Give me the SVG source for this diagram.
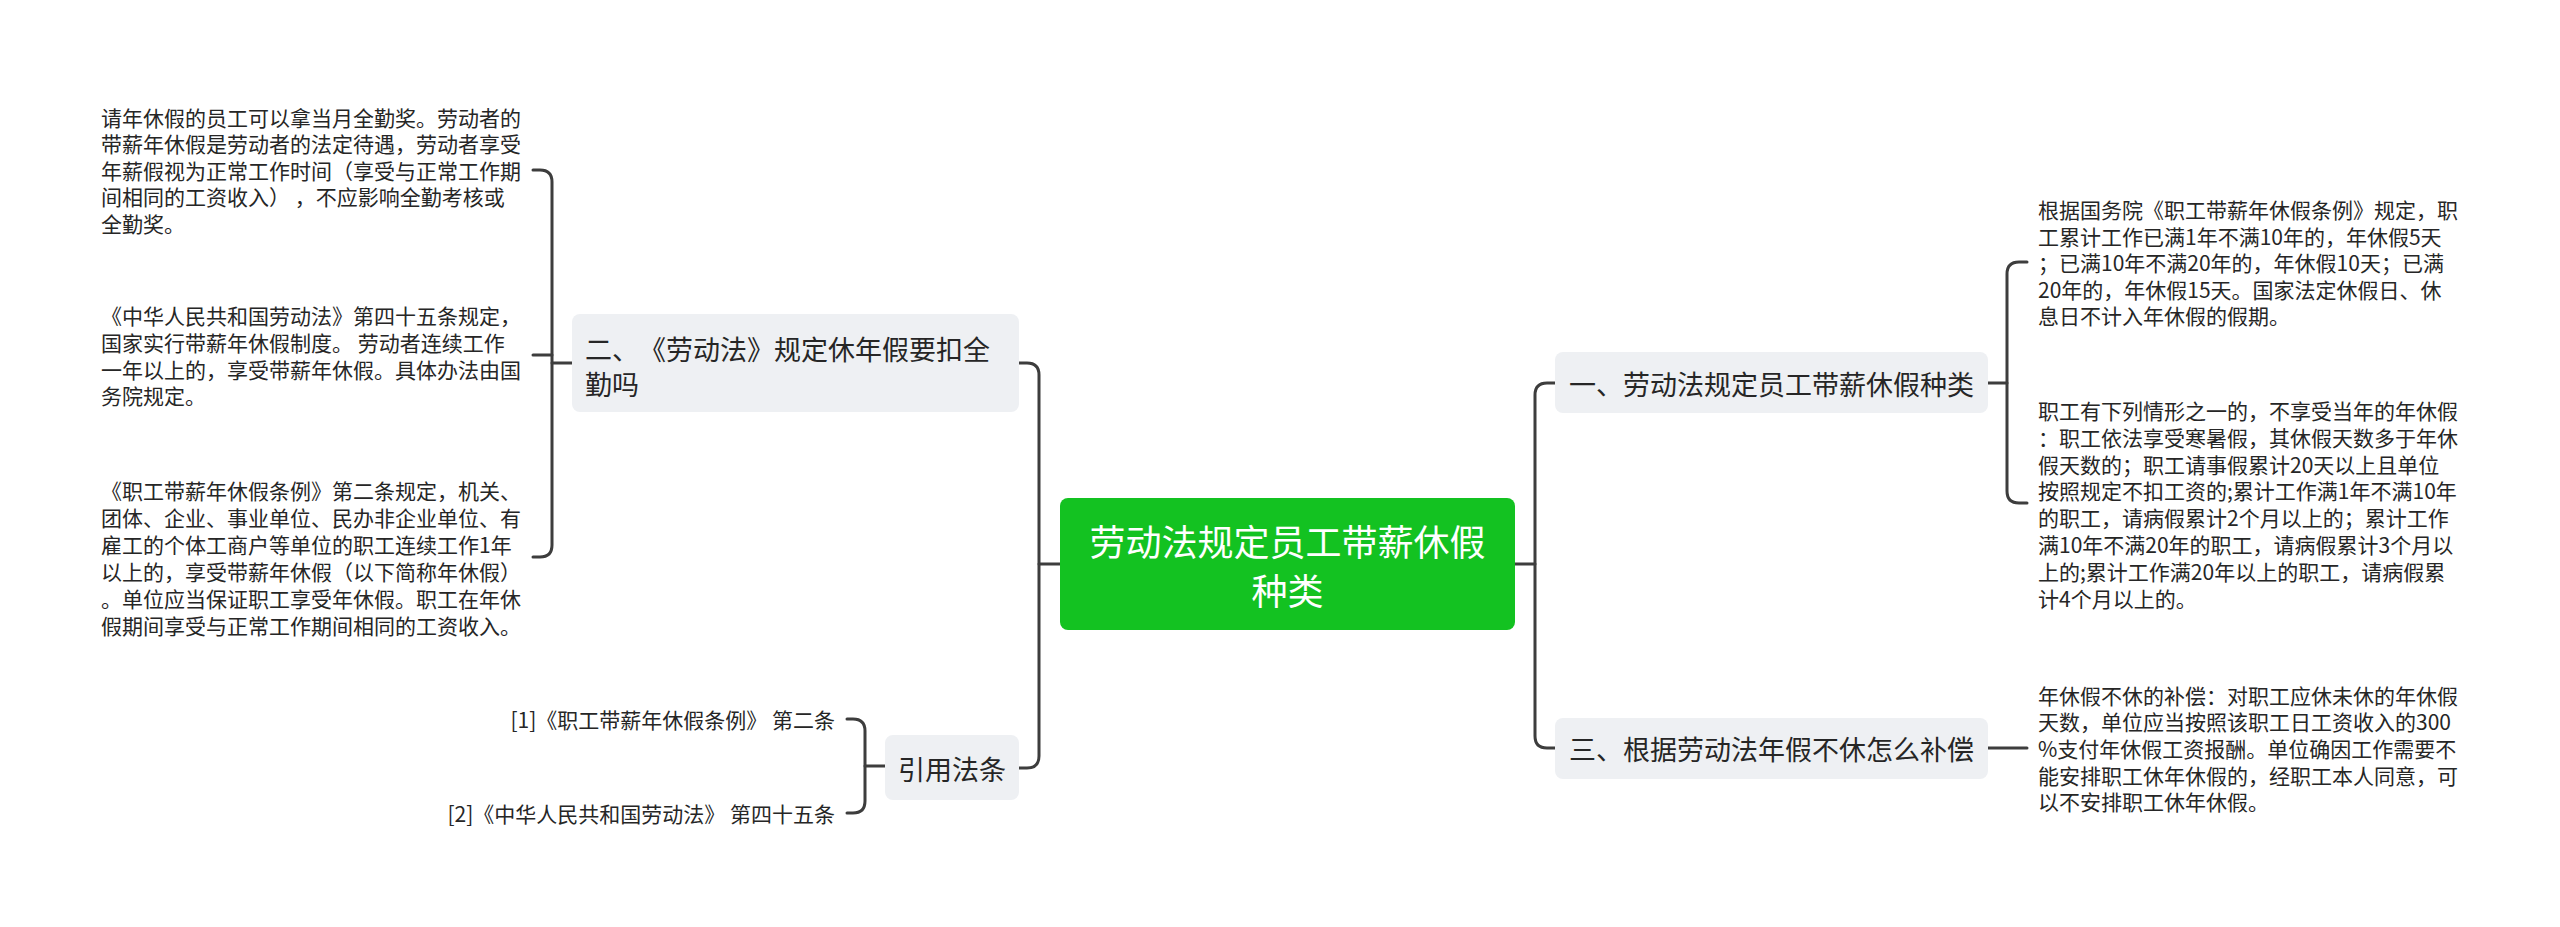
<svg xmlns="http://www.w3.org/2000/svg" width="2560" height="927" viewBox="0 0 2560 927">
<style>
text{font-family:"Noto Sans CJK SC","Noto Sans",sans-serif;fill:#262626;dominant-baseline:central;text-spacing-trim:space-all}
.leaf{font-size:21px}
.sub{font-size:27px}
.root{font-size:36px;fill:#ffffff}
.box{fill:#eef0f3}
.conn{fill:none;stroke:#3d3d3d;stroke-width:3;stroke-linecap:round}
</style>
<rect width="2560" height="927" fill="#ffffff"/>
<g id="connectors">
<path class="conn" d="M1515,564 H1535"/>
<path class="conn" d="M1555,383 H1547 Q1535,383 1535,395 V736 Q1535,748 1547,748 H1555"/>
<path class="conn" d="M1988,383 H2007"/>
<path class="conn" d="M2027,262 H2019 Q2007,262 2007,274 V491 Q2007,503 2019,503 H2027"/>
<path class="conn" d="M1988,748 H2027"/>
<path class="conn" d="M1060,564 H1039"/>
<path class="conn" d="M1019,363 H1027 Q1039,363 1039,375 V756 Q1039,768 1027,768 H1019"/>
<path class="conn" d="M533,170 H540 Q552,170 552,182 V545 Q552,557 540,557 H533"/>
<path class="conn" d="M533,355 H552"/>
<path class="conn" d="M552,363 H572"/>
<path class="conn" d="M847,719 H853 Q865,719 865,731 V801 Q865,813 853,813 H847"/>
<path class="conn" d="M865,766 H885"/>
</g>
<g id="root">
<rect x="1060" y="498" width="455" height="132" rx="8" fill="#13c221"/>
<text class="root" x="1287.5" y="540" text-anchor="middle">劳动法规定员工带薪休假</text>
<text class="root" x="1287.5" y="589" text-anchor="middle">种类</text>
</g>
<g id="n1">
<rect class="box" x="1555" y="352" width="433" height="61" rx="8"/>
<text class="sub" x="1569" y="383">一、劳动法规定员工带薪休假种类</text>
</g>
<g id="n1a">
<text class="leaf" x="2038" y="209">根据国务院《职工带薪年休假条例》规定，职</text>
<text class="leaf" x="2038" y="236">工累计工作已满1年不满10年的，年休假5天</text>
<text class="leaf" x="2038" y="262">；已满10年不满20年的，年休假10天；已满</text>
<text class="leaf" x="2038" y="289">20年的，年休假15天。国家法定休假日、休</text>
<text class="leaf" x="2038" y="315">息日不计入年休假的假期。</text>
</g>
<g id="n1b">
<text class="leaf" x="2038" y="410">职工有下列情形之一的，不享受当年的年休假</text>
<text class="leaf" x="2038" y="437">：职工依法享受寒暑假，其休假天数多于年休</text>
<text class="leaf" x="2038" y="464">假天数的；职工请事假累计20天以上且单位</text>
<text class="leaf" x="2038" y="490">按照规定不扣工资的;累计工作满1年不满10年</text>
<text class="leaf" x="2038" y="517">的职工，请病假累计2个月以上的；累计工作</text>
<text class="leaf" x="2038" y="544">满10年不满20年的职工，请病假累计3个月以</text>
<text class="leaf" x="2038" y="571">上的;累计工作满20年以上的职工，请病假累</text>
<text class="leaf" x="2038" y="598">计4个月以上的。</text>
</g>
<g id="n3">
<rect class="box" x="1555" y="718" width="433" height="61" rx="8"/>
<text class="sub" x="1569" y="748">三、根据劳动法年假不休怎么补偿</text>
</g>
<g id="n3a">
<text class="leaf" x="2038" y="695">年休假不休的补偿：对职工应休未休的年休假</text>
<text class="leaf" x="2038" y="721">天数，单位应当按照该职工日工资收入的300</text>
<text class="leaf" x="2038" y="748">%支付年休假工资报酬。单位确因工作需要不</text>
<text class="leaf" x="2038" y="775">能安排职工休年休假的，经职工本人同意，可</text>
<text class="leaf" x="2038" y="801">以不安排职工休年休假。</text>
</g>
<g id="n2">
<rect class="box" x="572" y="314" width="447" height="98" rx="8"/>
<text class="sub" x="585" y="348">二、《劳动法》规定休年假要扣全</text>
<text class="sub" x="585" y="383">勤吗</text>
</g>
<g id="n2a">
<text class="leaf" x="101" y="117">请年休假的员工可以拿当月全勤奖。劳动者的</text>
<text class="leaf" x="101" y="143">带薪年休假是劳动者的法定待遇，劳动者享受</text>
<text class="leaf" x="101" y="170">年薪假视为正常工作时间（享受与正常工作期</text>
<text class="leaf" x="101" y="196">间相同的工资收入） ，不应影响全勤考核或</text>
<text class="leaf" x="101" y="223">全勤奖。</text>
</g>
<g id="n2b">
<text class="leaf" x="101" y="315">《中华人民共和国劳动法》第四十五条规定，</text>
<text class="leaf" x="101" y="342">国家实行带薪年休假制度。 劳动者连续工作</text>
<text class="leaf" x="101" y="369">一年以上的，享受带薪年休假。具体办法由国</text>
<text class="leaf" x="101" y="395">务院规定。</text>
</g>
<g id="n2c">
<text class="leaf" x="101" y="490">《职工带薪年休假条例》第二条规定，机关、</text>
<text class="leaf" x="101" y="517">团体、企业、事业单位、民办非企业单位、有</text>
<text class="leaf" x="101" y="544">雇工的个体工商户等单位的职工连续工作1年</text>
<text class="leaf" x="101" y="571">以上的，享受带薪年休假（以下简称年休假）</text>
<text class="leaf" x="101" y="598">。单位应当保证职工享受年休假。职工在年休</text>
<text class="leaf" x="101" y="625">假期间享受与正常工作期间相同的工资收入。</text>
</g>
<g id="n4">
<rect class="box" x="885" y="735" width="134" height="65" rx="8"/>
<text class="sub" x="952" y="768" text-anchor="middle">引用法条</text>
</g>
<g id="n4a">
<text class="leaf" x="835" y="719" text-anchor="end">[1]《职工带薪年休假条例》 第二条</text>
</g>
<g id="n4b">
<text class="leaf" x="835" y="813" text-anchor="end">[2]《中华人民共和国劳动法》 第四十五条</text>
</g>
</svg>
